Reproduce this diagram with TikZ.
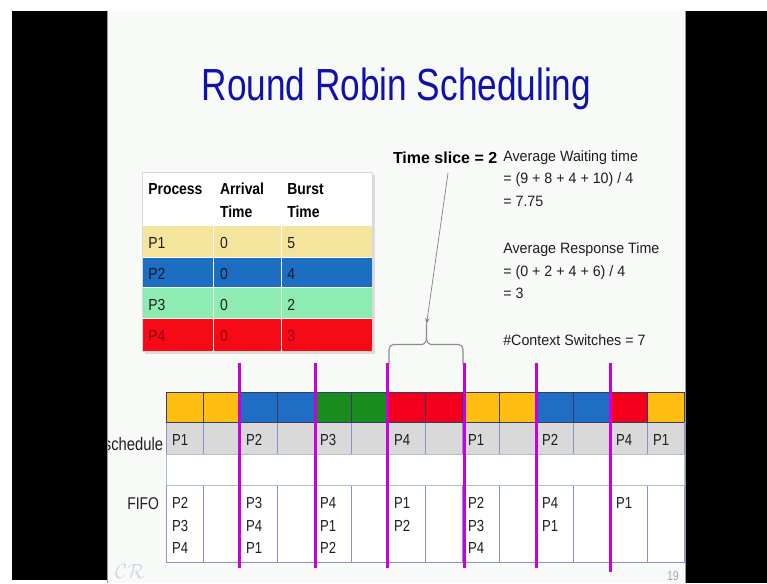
\documentclass[tikz,border=0pt]{standalone}
\usepackage{fontspec}
\setmainfont{Liberation Sans}
\newfontfamily\titlefont{Liberation Sans}[FakeStretch=0.782]
\newfontfamily\tablefont{Liberation Sans}[FakeStretch=0.87]
\newfontfamily\ganttfont{Liberation Sans}[FakeStretch=0.82]
\newfontfamily\bodyfont{Liberation Sans}[FakeStretch=0.95]
\usetikzlibrary{arrows.meta}

\definecolor{slidebg}{HTML}{F8FAF8}
\definecolor{titleblue}{HTML}{1010AC}
\definecolor{tabyellow}{HTML}{F5E49C}
\definecolor{tabblue}{HTML}{1C6EC0}
\definecolor{tabgreen}{HTML}{8CECB2}
\definecolor{tabred}{HTML}{F50A16}
\definecolor{barorange}{HTML}{FFBF12}
\definecolor{barblue}{HTML}{1F6EC4}
\definecolor{bargreen}{HTML}{1A8C1E}
\definecolor{barred}{HTML}{F5001C}
\definecolor{barline}{HTML}{3A3A66}
\definecolor{gridpurple}{HTML}{8E8ECC}
\definecolor{rowgray}{HTML}{D9D9D9}
\definecolor{tealgray}{HTML}{A9C2C2}
\definecolor{marker}{HTML}{C800DC}
\definecolor{ink}{HTML}{1E1E1E}
\definecolor{navyink}{HTML}{101830}
\definecolor{darkred}{HTML}{8C0014}
\definecolor{logotint}{HTML}{D4D4EE}

\begin{document}
\begin{tikzpicture}[x=1pt,y=-1pt,
  txt/.style={inner sep=0pt, outer sep=0pt, anchor=base west, text=ink},
  tabhead/.style={txt, text=black, font=\tablefont\bfseries\fontsize{16}{18}\selectfont},
  tabcell/.style={txt, font=\tablefont\fontsize{16}{18}\selectfont},
  body/.style={txt, font=\bodyfont\fontsize{15}{18}\selectfont},
  glabel/.style={txt, font=\ganttfont\fontsize{16}{18}\selectfont},
  barcell/.style={draw=barline, line width=0.6pt, minimum width=37pt, minimum height=30pt, inner sep=0pt, outer sep=0pt},
  schcell/.style={draw=gridpurple, fill=rowgray, line width=0.8pt, minimum width=37pt, minimum height=31.5pt, inner sep=0pt, outer sep=0pt},
  fifocell/.style={draw=gridpurple, fill=white, line width=0.8pt, minimum width=37pt, minimum height=77.5pt, inner sep=0pt, outer sep=0pt},
  markline/.style={draw=marker, line width=3pt},
  bracestyle/.style={draw=black!45, line width=1.1pt},
]
\useasboundingbox (0,0) rectangle (767,583);
\fill[white] (0,0) rectangle (767,583);
\fill[slidebg] (108,11) rectangle (685,583);

% title
\node[inner sep=0pt, anchor=base, text=titleblue, font=\titlefont\fontsize{45}{50}\selectfont] (title) at (396.5,100) {Round Robin Scheduling};

% process table
\fill[black!14] (144.5,175) rectangle (374.5,353.5);
\fill[white] (142,172) rectangle (372,226);
\fill[tabyellow] (142,226) rectangle (372,257);
\fill[tabblue] (142,257) rectangle (372,287.5);
\fill[tabgreen] (142,287.5) rectangle (372,318);
\fill[tabred] (142,318) rectangle (372,351);
\draw[white, line width=0.8pt] (213.3,226) -- (213.3,351) (281.7,226) -- (281.7,351)
  (142,257) -- (372,257) (142,287.5) -- (372,287.5) (142,318) -- (372,318);
\draw[black!16, line width=0.6pt] (142,172) rectangle (372,351);

\node[tabhead] (hproc) at (148.3,194) {Process};
\node[tabhead] (harr) at (220,194) {Arrival};
\node[tabhead] (harrt) at (220,217) {Time};
\node[tabhead] (hbur) at (287.3,194) {Burst};
\node[tabhead] (hburt) at (287.3,217) {Time};
\foreach \r/\y/\a/\b/\c in {1/248/0/5/ink, 2/279/0/4/navyink, 3/310/0/2/ink, 4/341/0/3/darkred}{
  \node[tabcell, text=\c] (p\r) at (148.3,\y) {P\r};
  \node[tabcell, text=\c] (a\r) at (220,\y) {\a};
  \node[tabcell, text=\c] (b\r) at (287.3,\y) {\b};
}

% metrics
\node[txt, text=black, font=\bfseries\fontsize{16}{18}\selectfont] (tslice) at (393,163) {Time slice = 2};
\node[body] (wt1) at (503.3,161) {Average Waiting time};
\node[body] (wt2) at (503.3,183.5) {= (9 + 8 + 4 + 10) / 4};
\node[body] (wt3) at (503.3,206) {= 7.75};
\node[body] (rt1) at (503.3,253) {Average Response Time};
\node[body] (rt2) at (503.3,276) {= (0 + 2 + 4 + 6) / 4};
\node[body] (rt3) at (503.3,298.5) {= 3};
\node[body] (cs) at (503.3,345) {\#Context Switches = 7};

% brace over one time slice
\coordinate (bracetip) at (426.5,324);
\coordinate (arrowstart) at (448,173);
\draw[bracestyle] (389,364) -- (389,349.5) to[out=90,in=180] (393.5,344.5) -- (421.5,344.5)
  to[out=0,in=-90] (426.5,338) -- (bracetip);
\draw[bracestyle] (463,364) -- (463,349.5) to[out=90,in=0] (458.5,344.5) -- (431.5,344.5)
  to[out=180,in=-90] (426.5,338);
\draw[draw=black!50, line width=0.7pt, -{Stealth[length=6pt,width=4.5pt]}] (arrowstart) -- (bracetip);

% gantt rows
\foreach \i/\c in {0/barorange,1/barorange,2/barblue,3/barblue,4/bargreen,5/bargreen,6/barred,7/barred,
                   8/barorange,9/barorange,10/barblue,11/barblue,12/barred,13/barorange}{
  \node[barcell, fill=\c] (bar\i) at ({166+37*\i+18.5},407.5) {};
  \node[schcell] (sch\i) at ({166+37*\i+18.5},438.25) {};
  \node[fifocell] (fifo\i) at ({166+37*\i+18.5},523.75) {};
}
\draw[barline, line width=1.4pt] (166,422.5) -- (684,422.5);
\draw[tealgray, fill=white, line width=0.9pt] (166,454) rectangle (684,485);

\node[glabel, anchor=base east, font=\ganttfont\fontsize{18}{20}\selectfont] (schedlabel) at (163,450.5) {schedule};
\node[glabel, anchor=base east, font=\ganttfont\fontsize{17}{20}\selectfont] (fifolabel) at (159,509) {FIFO};

\foreach \i/\p in {0/P1,2/P2,4/P3,6/P4,8/P1,10/P2,12/P4,13/P1}
  \node[glabel] (slab\i) at ({166+37*\i+6},445.5) {\p};

\foreach \i/\lst in {0/{P2,P3,P4},2/{P3,P4,P1},4/{P4,P1,P2},6/{P1,P2},8/{P2,P3,P4},10/{P4,P1},12/{P1}}
  \foreach \p [count=\j] in \lst
    \node[glabel] (f\i-\j) at ({166+37*\i+6},{508.5+22.5*(\j-1)}) {\p};

% time slice markers
\foreach \x/\b in {239.5/568,315/568,387/568,464/568,536/568,610/572}
  \draw[markline] (\x,362.5) -- (\x,\b);

% footer
\node[txt, text=black!35, font=\ganttfont\fontsize{13}{14}\selectfont] (pageno) at (667,580) {19};
\node[inner sep=0pt, text=logotint, font=\fontsize{20}{22}\selectfont] (logo) at (130,571) {$\mathcal{CR}$};

% frame around the slide
\fill[black] (12,11) rectangle (107.5,580);
\fill[black] (685.5,11) rectangle (767,583);
\draw[black!40, line width=0.8pt] (107.6,11) -- (107.6,583) (685.2,11) -- (685.2,583);
\end{tikzpicture}
\end{document}
